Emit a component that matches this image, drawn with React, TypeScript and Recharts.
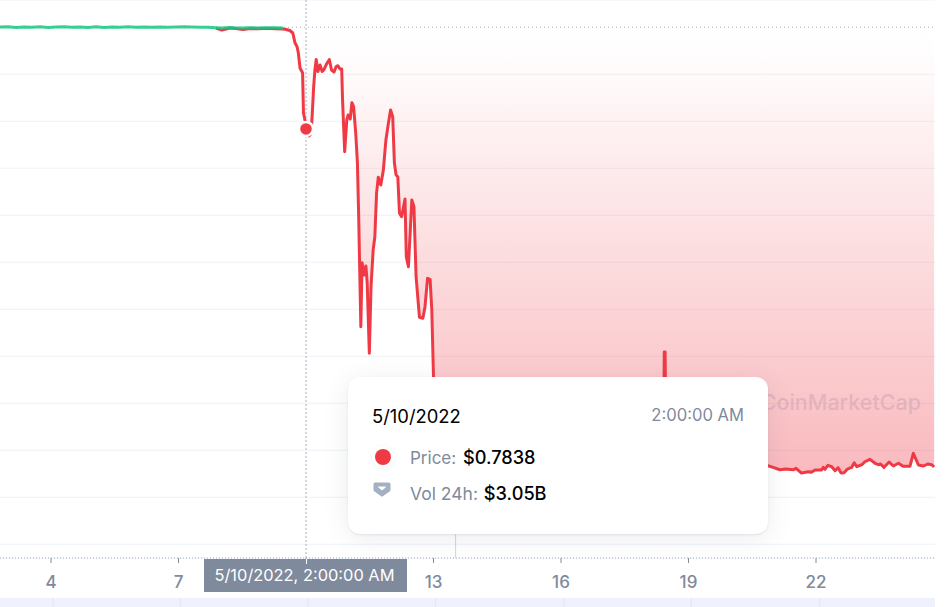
import React from "react";
import {
  ComposedChart, Area, Line, XAxis, YAxis, CartesianGrid,
  ReferenceLine, ReferenceDot, Tooltip,
} from "recharts";

const GREEN = "#16c784";
const RED = "#ef3a46";
const GREY = "#808a9d";

const days = [
  2.8, 2.99, 3.18, 3.36, 3.55, 3.74, 3.93, 4.12, 4.31, 4.49, 4.68, 4.87, 5.06, 5.25, 5.44, 5.62, 5.81, 6.0, 6.19,
  6.38, 6.56, 6.75, 6.94, 7.13, 7.32, 7.51, 7.69, 7.88, 8.02, 8.21, 8.35, 8.52, 8.68, 8.85, 9.01, 9.15, 9.29, 9.46,
  9.51, 9.62, 9.69, 9.74, 9.79, 9.82, 9.86, 9.92, 9.94, 9.98, 10.0, 10.07, 10.11, 10.14, 10.18, 10.21, 10.24, 10.28,
  10.33, 10.38, 10.42, 10.49, 10.55, 10.6, 10.66, 10.71, 10.75, 10.8, 10.84, 10.86, 10.91, 10.96, 10.99, 11.04, 11.08,
  11.12, 11.17, 11.21, 11.24, 11.29, 11.32, 11.37, 11.41, 11.44, 11.49, 11.53, 11.58, 11.62, 11.66, 11.7, 11.76,
  11.82, 11.88, 11.94, 11.99, 12.04, 12.08, 12.12, 12.16, 12.2, 12.25, 12.33, 12.36, 12.41, 12.49, 12.54, 12.59,
  12.67, 12.75, 12.8, 12.86, 12.92, 12.96, 13.0, 13.04, 13.15, 13.39, 13.86, 14.56, 15.27, 15.98, 16.92, 17.86,
  18.41, 18.43, 18.45, 18.47, 19.27, 20.21, 20.87, 20.99, 21.15, 21.29, 21.47, 21.53, 21.66, 21.82, 21.88, 21.98,
  22.13, 22.17, 22.21, 22.28, 22.37, 22.45, 22.52, 22.59, 22.66, 22.74, 22.84, 22.9, 22.96, 23.08, 23.15, 23.27,
  23.39, 23.47, 23.52, 23.6, 23.72, 23.82, 23.94, 24.05, 24.21, 24.29, 24.41, 24.53, 24.63, 24.72, 24.78,
];

// above the peg, runs up to day 9.46
const greenPrices = [
  1.0003, 1.001, 0.9996, 1.0007, 1.0, 1.001, 0.9997, 1.0005, 1.0011, 0.9998, 1.0007, 0.9994, 1.0009, 0.9997, 1.0006,
  1.0001, 1.0009, 0.9998, 1.0006, 1.0001, 1.0008, 0.9999, 1.0006, 1.0009, 1.0004, 0.9998, 1.0002, 0.9992, 0.9985, 0.9997,
  0.9986, 0.9985, 0.9992, 0.9986, 0.9991, 0.9987, 0.999, 0.9982,
];

// starts at day 7.88, under the green line until the peg breaks
const redStart = 27;
const redPrices = [
  0.9982, 0.9938, 0.9985, 0.9972, 0.995, 0.9972, 0.9968, 0.9974, 0.9972, 0.997, 0.9965,
  0.9958, 0.9931, 0.9878, 0.9671, 0.9586, 0.9452, 0.9133, 0.9027, 0.8176, 0.8006, 0.7838, 0.7686, 0.7729, 0.8027,
  0.8729, 0.9091, 0.9314, 0.9059, 0.9197, 0.9059, 0.9091, 0.9229, 0.9314, 0.9091, 0.9048, 0.9165, 0.9182, 0.9112,
  0.9112, 0.8452, 0.7352, 0.8027, 0.8133, 0.8048, 0.8395, 0.831, 0.775, 0.7112, 0.5969, 0.3629, 0.4991, 0.4729, 0.492,
  0.4559, 0.3063, 0.448, 0.5261, 0.5544, 0.6467, 0.6808, 0.6644, 0.6963, 0.7601, 0.7963, 0.824, 0.8097, 0.7112,
  0.6857, 0.682, 0.6042, 0.5969, 0.6346, 0.5118, 0.4906, 0.6325, 0.6182, 0.4693, 0.3829, 0.3808, 0.4054, 0.4659,
  0.4637, 0.3984, 0.2565, 0.2389, 0.1644, 0.1219, 0.1006, 0.0899, 0.0835, 0.0793, 0.075, 0.0793, 0.0835, 0.3091,
  0.3091, 0.1219, 0.0899, 0.075, 0.0671, 0.0637, 0.0586, 0.0601, 0.0586, 0.0616, 0.0516, 0.0544, 0.0531, 0.058, 0.058,
  0.0637, 0.0595, 0.068, 0.065, 0.0565, 0.0629, 0.0516, 0.0523, 0.0601, 0.0637, 0.0735, 0.065, 0.0693, 0.0756, 0.0807,
  0.0723, 0.0693, 0.0708, 0.0637, 0.075, 0.0665, 0.0723, 0.0659, 0.0659, 0.0935, 0.0687, 0.0665, 0.0708, 0.0693, 0.0644,
];

const peg = 1;
const hoverDay = 10;
const hoverPrice = 0.7838;
const xTicks = [4, 7, 10, 13, 16, 19, 22];
const yTicks = [-0.1, 0, 0.1, 0.2, 0.3, 0.4, 0.5, 0.6, 0.7, 0.8, 0.9];
const brushTicks = [4.05, 7.04, 10.05, 13.05, 16.07, 19.06, 22.09];
const brushEnds = [2.8, 24.8];
const volumeMarkDay = 13.52;

const chartData = days.map((day, i) => ({
  day,
  green: i < greenPrices.length ? greenPrices[i] : null,
  red: i >= redStart ? redPrices[i - redStart] : null,
  gap: i >= redStart + 11 ? [redPrices[i - redStart], peg] : null,
}));

const brushData = brushEnds.map((day) => ({ day, v: 1 }));

function PriceTooltip({ payload }: { payload?: Array<{ dataKey?: string; value?: number }> }) {
  const price = payload?.find((p) => p.dataKey === "red")?.value ?? hoverPrice;
  return (
    <div style={{
      width: 420, height: 157, boxSizing: "border-box", background: "#fff", borderRadius: 12,
      boxShadow: "0 4px 24px rgba(88,102,126,0.12), 0 1px 2px rgba(88,102,126,0.12)",
      fontFamily: "Inter", fontSize: 17, position: "relative",
    }}>
      <span style={{ position: "absolute", left: 24, top: 28, color: "#000", fontSize: 18.4 }}>5/10/2022</span>
      <span style={{ position: "absolute", right: 24, top: 28, color: GREY, fontSize: 16.6 }}>2:00:00 AM</span>
      <span style={{
        position: "absolute", left: 26.5, top: 72, width: 16, height: 16, borderRadius: "50%", background: RED,
        boxShadow: "0 0 0 3px #fff, 0 1px 7px rgba(88,102,126,0.25)",
      }} />
      <span style={{ position: "absolute", left: 62, top: 69, color: GREY }}>
        Price: <span style={{ color: "#000", fontWeight: 500, fontSize: 18.2, marginLeft: 2 }}>${price.toFixed(4)}</span>
      </span>
      <svg width="26" height="30" style={{ position: "absolute", left: 21, top: 100 }}>
        <path d="M4 5 H22 V14 L13 24 L4 14 Z" fill="#fff" stroke="#fff" strokeWidth="4" strokeLinejoin="round" />
        <path d="M6 7 H20 V13 L13 18 L6 13 Z" fill="#a6b0c3" stroke="#a6b0c3" strokeWidth="3" strokeLinejoin="round" />
        <path d="M9.5 10 H16.5 L13 13 Z" fill="#fff" stroke="#fff" strokeLinejoin="round" />
      </svg>
      <span style={{ position: "absolute", left: 62, top: 105, color: GREY, fontSize: 17.5 }}>
        Vol 24h: <span style={{ color: "#000", fontWeight: 500, fontSize: 18.2, marginLeft: 1 }}>$3.05B</span>
      </span>
    </div>
  );
}

export default function App() {
  return (
    <div style={{ position: "absolute", left: 0, top: 0, width: 951, height: 607, background: "#fff", overflow: "hidden" }}>
      <ComposedChart
        width={951}
        height={607}
        data={chartData}
        margin={{ top: 0, right: 16, bottom: 0, left: 0 }}
      >
        <defs>
          <linearGradient id="gapFill" x1="0" y1="0" x2="0" y2="1">
            <stop offset="0%" stopColor={RED} stopOpacity={0} />
            <stop offset="6%" stopColor={RED} stopOpacity={0.01} />
            <stop offset="100%" stopColor={RED} stopOpacity={0.35} />
          </linearGradient>
        </defs>
        <CartesianGrid vertical={false} stroke="#eff2f5" />
        <XAxis
          dataKey="day"
          type="number"
          domain={[2.8, 24.8]}
          ticks={xTicks}
          allowDataOverflow
          interval={0}
          height={49}
          axisLine={{ stroke: "#a6b0c3", strokeDasharray: "1 2" }}
          tickLine={{ stroke: GREY }}
          tickSize={5}
          tickMargin={13}
          tickFormatter={(d: number) => (d === hoverDay ? "" : String(d))}
          tick={{ fontSize: 17, fontWeight: 500, fill: GREY, fontFamily: "Inter" }}
        />
        <YAxis hide type="number" domain={[-0.1292, 1.058]} ticks={yTicks} allowDataOverflow />
        <ReferenceLine y={peg} stroke="#a6b0c3" strokeDasharray="1 3" />
        <ReferenceLine x={hoverDay} stroke="#a6b0c3" strokeDasharray="2 2" />
        <ReferenceLine
          segment={[{ x: volumeMarkDay, y: -0.1292 }, { x: volumeMarkDay, y: 0 }]}
          stroke="#cfd6e4"
        />
        <Area
          dataKey="gap"
          type="linear"
          stroke="none"
          fill="url(#gapFill)"
          fillOpacity={1}
          dot={false}
          activeDot={false}
          isAnimationActive={false}
        />
        <text x={921} y={410} textAnchor="end" fontFamily="Inter" fontSize={21.5} fontWeight={500} fill="#d3deee" fillOpacity={0.8}>
          CoinMarketCap
        </text>
        <Line dataKey="red" type="linear" stroke={RED} strokeWidth={3} strokeLinejoin="round" dot={false} activeDot={false} isAnimationActive={false} />
        <Line dataKey="green" type="linear" stroke={GREEN} strokeOpacity={0.85} strokeWidth={3} strokeLinejoin="round" dot={false} activeDot={false} isAnimationActive={false} />
        <ReferenceDot x={hoverDay} y={hoverPrice} r={7} fill={RED} stroke="#fff" strokeWidth={2.5} />
        <Tooltip
          active
          defaultIndex={days.indexOf(hoverDay)}
          position={{ x: 348, y: 377 }}
          cursor={false}
          isAnimationActive={false}
          allowEscapeViewBox={{ x: true, y: true }}
          wrapperStyle={{ outline: "none" }}
          content={<PriceTooltip />}
        />
      </ComposedChart>

      <div style={{
        position: "absolute", left: 204, top: 559, width: 201, paddingRight: 2, height: 33, background: GREY, color: "#fff",
        fontFamily: "Inter", fontSize: 16.4, lineHeight: "33px", textAlign: "center",
      }}>
        <span style={{ position: "absolute", left: 102, top: 0, width: 1, height: 5, background: "#fff" }} />
        5/10/2022, 2:00:00 AM
      </div>

      <div style={{ position: "absolute", left: 0, top: 598 }}>
        <ComposedChart width={935} height={9} data={brushData} margin={{ top: 0, right: 0, bottom: 0, left: 0 }}>
          <XAxis hide dataKey="day" type="number" domain={[2.8, 24.8]} />
          <YAxis hide domain={[0, 1]} />
          <Area dataKey="v" type="linear" stroke="none" fill="#eff2fd" fillOpacity={1} dot={false} activeDot={false} isAnimationActive={false} />
          {brushTicks.map((d) => (
            <ReferenceLine key={d} x={d} stroke="#dfe5f5" />
          ))}
        </ComposedChart>
      </div>
    </div>
  );
}
